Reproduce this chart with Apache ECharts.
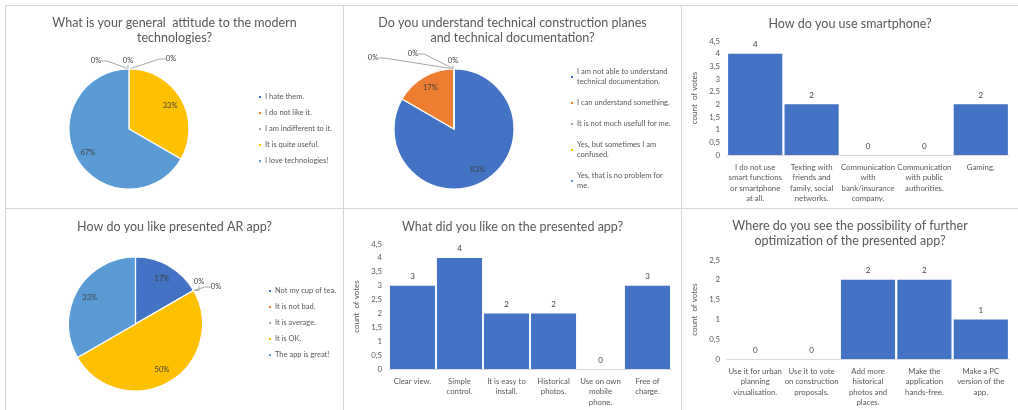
<!DOCTYPE html>
<html>
<head>
<meta charset="utf-8">
<script src="https://cdn.jsdelivr.net/npm/echarts/dist/echarts.min.js"></script>
<style>
    html, body { margin: 0; padding: 0; background: #fff; }
    #page { position: relative; width: 1018px; height: 410px; overflow: hidden; }
    .panel { position: absolute; box-sizing: border-box; border-left: 1px solid #d6d6d6; border-top: 1px solid #d6d6d6; }
</style>
</head>
<body>
<div id="page">
    <div class="panel" id="c1" style="left:5px;top:5px;width:338px;height:203px"></div>
    <div class="panel" id="c2" style="left:343px;top:5px;width:338px;height:203px"></div>
    <div class="panel" id="c3" style="left:681px;top:5px;width:337px;height:203px"></div>
    <div class="panel" id="c4" style="left:5px;top:208px;width:338px;height:202px"></div>
    <div class="panel" id="c5" style="left:343px;top:208px;width:338px;height:202px"></div>
    <div class="panel" id="c6" style="left:681px;top:208px;width:337px;height:202px"></div>
</div>
<script>
// 数据
var attitudeNames = ['I hate them.', 'I do not like it.', 'I am indifferent to it.', 'It is quite useful.', 'I love technologies!'];
var attitudeVotes = [0, 0, 0, 2, 4];

var docsNames = ['I am not able to understand technical documentation.', 'I can understand something.',
    'It is not much usefull for me.', 'Yes, but sometimes I am confused.', 'Yes, that is no problem for me.'];
var docsVotes = [5, 1, 0, 0, 0];

var arNames = ['Not my cup of tea.', 'It is not bad.', 'It is average.', 'It is OK.', 'The app is great!'];
var arVotes = [1, 0, 0, 3, 2];

var phoneCats = ['I do not use\nsmart functions\nor smartphone\nat all.', 'Texting with\nfriends and\nfamily, social\nnetworks.',
    'Communication\nwith\nbank/insurance\ncompany.', 'Communication\nwith public\nauthorities.', 'Gaming.'];
var phoneVotes = [4, 2, 0, 0, 2];

var likeCats = ['Clear view.', 'Simple\ncontrol.', 'It is easy to\ninstall.', 'Historical\nphotos.', 'Use on own\nmobile\nphone.', 'Free of\ncharge.'];
var likeVotes = [3, 4, 2, 2, 0, 3];

var optimCats = ['Use it for urban\nplanning\nvizualisation.', 'Use it to vote\non construction\nproposals.',
    'Add more\nhistorical\nphotos and\nplaces.', 'Make the\napplication\nhands-free.', 'Make a PC\nversion of the\napp.'];
var optimVotes = [0, 0, 2, 2, 1];

var PIE_COLORS = ['#4472C4', '#ED7D31', '#A5A5A5', '#FFC000', '#5B9BD5'];
var BAR_COLOR = '#4472C4';
var TEXT_COLOR = '#595959';
var FONT = 'Lato, "Liberation Sans", sans-serif';

function getTitle(text, top) {
    return {
        text: text,
        left: 'center',
        top: top,
        padding: 0,
        textStyle: {fontSize: 12.5, fontWeight: 'normal', color: TEXT_COLOR, fontFamily: FONT, lineHeight: 15}
    };
}

function getPieOption(cfg) {
    var total = cfg.values.reduce(function(s, v) { return s + v; }, 0);
    var data = cfg.values.map(function(v, i) {
        var zero = v === 0;
        return {
            name: cfg.names[i],
            value: v,
            itemStyle: {color: PIE_COLORS[i]},
            label: {position: zero ? 'outside' : 'inside'},
            labelLine: {show: zero}
        };
    });
    return {
        animation: false,
        title: getTitle(cfg.title, cfg.titleTop),
        legend: {
            orient: 'vertical',
            left: cfg.legendLeft,
            top: cfg.legendTop,
            padding: 0,
            icon: 'rect',
            itemWidth: 4,
            itemHeight: 4,
            itemGap: cfg.legendGap,
            data: cfg.names,
            formatter: function(name) {
                return cfg.wrap && cfg.wrap[name] ? cfg.wrap[name] : name;
            },
            textStyle: {fontSize: 7.5, color: TEXT_COLOR, fontFamily: FONT, lineHeight: 10, padding: [0, 0, 0, -2]}
        },
        series: [{
            type: 'pie',
            center: cfg.center,
            radius: cfg.radius,
            startAngle: 90,
            clockwise: true,
            itemStyle: {borderColor: '#fff', borderWidth: 1.2},
            label: {
                show: true,
                fontSize: 7.5,
                color: '#404040',
                fontFamily: FONT,
                formatter: function(p) { return Math.round(p.percent) + '%'; }
            },
            labelLine: {lineStyle: {color: '#a6a6a6', width: 1}, length: 6, length2: 6},
            labelLayout: function(p) {
                var idx = p.dataIndex;
                var v = cfg.values[idx];
                if (v === 0) {
                    var z = cfg.zeroLabels[idx];
                    return {x: z[0], y: z[1], align: 'center', verticalAlign: 'middle'};
                }
                var before = 0;
                for (var i = 0; i < idx; i++) before += cfg.values[i];
                var a = (before + v / 2) / total * Math.PI * 2;
                var r = cfg.radius * 0.79;
                return {
                    x: cfg.center[0] + r * Math.sin(a),
                    y: cfg.center[1] - r * Math.cos(a),
                    align: 'center',
                    verticalAlign: 'middle'
                };
            },
            data: data
        }]
    };
}

function getBarOption(cfg) {
    return {
        animation: false,
        title: getTitle(cfg.title, cfg.titleTop),
        grid: cfg.grid,
        xAxis: {
            type: 'category',
            data: cfg.cats,
            axisTick: {show: false},
            axisLine: {lineStyle: {color: '#d9d9d9', width: 1}},
            axisLabel: {interval: 0, fontSize: 7.8, color: TEXT_COLOR, fontFamily: FONT, lineHeight: 10.5, margin: 7}
        },
        yAxis: {
            type: 'value',
            min: 0,
            max: cfg.max,
            interval: 0.5,
            splitLine: {show: false},
            axisLine: {show: false},
            axisTick: {show: false},
            axisLabel: {
                fontSize: 7.8,
                color: TEXT_COLOR,
                fontFamily: FONT,
                margin: 7,
                formatter: function(v) { return String(v).replace('.', ','); }
            },
            name: 'count  of votes',
            nameLocation: 'middle',
            nameRotate: 90,
            nameGap: 14,
            nameTextStyle: {fontSize: 8, color: TEXT_COLOR, fontFamily: FONT}
        },
        series: [{
            type: 'bar',
            data: cfg.values,
            barCategoryGap: '4%',
            itemStyle: {color: BAR_COLOR},
            label: {show: true, position: 'top', distance: 5, fontSize: 8, color: '#404040', fontFamily: FONT}
        }]
    };
}

function renderChart(id, option) {
    var chart = echarts.init(document.getElementById(id), null, {renderer: 'canvas'});
    chart.setOption(option);
    return chart;
}

renderChart('c1', getPieOption({
    title: 'What is your general  attitude to the modern\ntechnologies?',
    titleTop: 9,
    names: attitudeNames,
    values: attitudeVotes,
    center: [123, 123],
    radius: 60,
    zeroLabels: {0: [90, 55], 1: [122, 55], 2: [165, 53]},
    legendLeft: 251,
    legendTop: 86,
    legendGap: 6
}));

renderChart('c2', getPieOption({
    title: 'Do you understand technical construction planes\nand technical documentation?',
    titleTop: 9,
    names: docsNames,
    values: docsVotes,
    center: [110, 123],
    radius: 60,
    zeroLabels: {2: [29, 52], 3: [69, 48], 4: [109, 55]},
    legendLeft: 225,
    legendTop: 61,
    legendGap: 11,
    wrap: {
        'I am not able to understand technical documentation.': 'I am not able to understand\ntechnical documentation.',
        'Yes, but sometimes I am confused.': 'Yes, but sometimes I am\nconfused.',
        'Yes, that is no problem for me.': 'Yes, that is no problem for\nme.'
    }
}));

renderChart('c3', getBarOption({
    title: 'How do you use smartphone?',
    titleTop: 10,
    cats: phoneCats,
    values: phoneVotes,
    max: 4.5,
    grid: {left: 45, right: 9, top: 35, bottom: 53}
}));

renderChart('c4', getPieOption({
    title: 'How do you like presented AR app?',
    titleTop: 10,
    names: arNames,
    values: arVotes,
    center: [129.5, 115],
    radius: 67,
    zeroLabels: {1: [193, 73], 2: [210, 78]},
    legendLeft: 261,
    legendTop: 77,
    legendGap: 6
}));

renderChart('c5', getBarOption({
    title: 'What did you like on the presented app?',
    titleTop: 10,
    cats: likeCats,
    values: likeVotes,
    max: 4.5,
    grid: {left: 45, right: 10, top: 35, bottom: 41}
}));

renderChart('c6', getBarOption({
    title: 'Where do you see the possibility of further\noptimization of the presented app?',
    titleTop: 9,
    cats: optimCats,
    values: optimVotes,
    max: 2.5,
    grid: {left: 45, right: 9, top: 51, bottom: 51}
}));
</script>
</body>
</html>
